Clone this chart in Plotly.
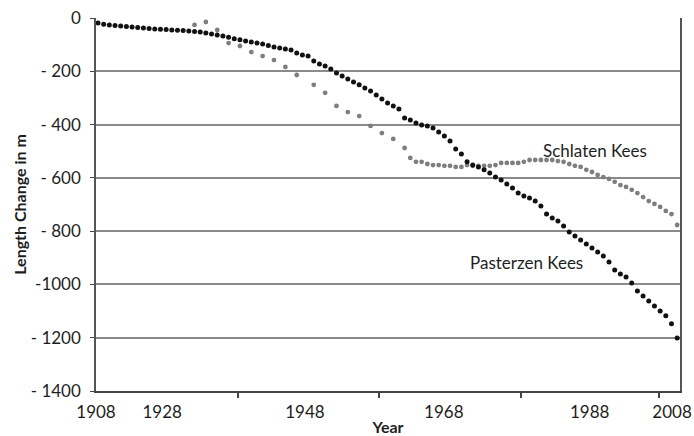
import plotly.graph_objects as go

# Pasterzen Kees: yearly 1908-2010
pasterzen_years = list(range(1908, 2011))
pasterzen_vals = [
    -19, -23, -26, -28, -30, -32, -34, -36, -38, -39,
    -41, -42, -43, -45, -46, -47, -49, -51, -53, -56,
    -60, -64, -68, -72, -78, -82, -86, -90, -94, -98,
    -103, -109, -113, -116, -120, -131, -139, -143, -161, -173,
    -180, -191, -206, -218, -229, -240, -251, -263, -274, -289,
    -304, -319, -330, -342, -375, -383, -394, -402, -405, -413,
    -428, -443, -462, -492, -510, -540, -552, -559, -570, -582,
    -597, -608, -623, -638, -657, -668, -676, -687, -706, -736,
    -751, -762, -781, -803, -818, -833, -848, -863, -878, -893,
    -916, -946, -961, -972, -995, -1025, -1043, -1062, -1081, -1100,
    -1118, -1148, -1201,
]

# Schlaten Kees
schlaten_years = [1925, 1927, 1929, 1931, 1933, 1935, 1937, 1939, 1941, 1943,
                  1946, 1948, 1950, 1952, 1954, 1956, 1958, 1960, 1962, 1963,
                  1964] + list(range(1965, 2011))
schlaten_vals = [
    -26, -15, -45, -94, -105, -128, -143, -158, -184, -214,
    -251, -281, -330, -353, -368, -405, -432, -454, -488, -525,
    -540,
    -540, -548, -552, -552, -555, -555, -559, -559, -552, -555,
    -555, -555, -555, -552, -544, -544, -544, -544, -540, -533,
    -533, -533, -533, -533, -537, -540, -548, -555, -559, -570,
    -578, -589, -597, -604, -615, -627, -634, -645, -657, -672,
    -687, -698, -709, -724, -736, -777,
]

y_ticks = [0, -200, -400, -600, -800, -1000, -1200, -1400]
y_ticktext = ["0", "- 200", "- 400", "- 600", "- 800", "-1000", "- 1200", "- 1400"]

x_tickmarks = [1932.65, 1957.5, 1982.5, 2006.8]
x_label_pos = [1907.65, 1919.3, 1944.45, 1968.9, 1994.6, 2009.1]
x_labels = ["1908", "1928", "1948", "1968", "1988", "2008"]

FONT = "Lato, 'Open Sans', sans-serif"
TXT = "#1e1e1e"
XR = [1907.65, 2010.5]

fig = go.Figure()
fig.add_trace(go.Scatter(
    x=schlaten_years, y=schlaten_vals, mode="markers",
    marker=dict(color="#7e7e7e", size=4.8), name="Schlaten Kees",
    showlegend=False))
fig.add_trace(go.Scatter(
    x=pasterzen_years, y=pasterzen_vals, mode="markers",
    marker=dict(color="#111111", size=5), name="Pasterzen Kees",
    showlegend=False))

fig.add_annotation(x=1995.5, y=-499, text="Schlaten Kees", showarrow=False,
                   font=dict(family=FONT, size=17, color=TXT))
fig.add_annotation(x=1983.5, y=-916, text="Pasterzen Kees", showarrow=False,
                   font=dict(family=FONT, size=17, color=TXT))

fig.update_layout(
    width=694, height=436,
    margin=dict(l=96, r=14, t=18, b=45, autoexpand=False),
    paper_bgcolor="white", plot_bgcolor="white",
    font=dict(family=FONT, size=17, color=TXT),
    xaxis=dict(range=XR, tickvals=x_tickmarks, ticktext=["" for _ in x_tickmarks],
               ticks="outside", ticklen=5, tickcolor="#444", tickwidth=1.5,
               showgrid=False, zeroline=False, automargin=False,
               showline=True, linecolor="#444", linewidth=1.5),
    xaxis2=dict(range=XR, overlaying="x", side="bottom", anchor="y",
                tickvals=x_label_pos, ticktext=x_labels, ticks="",
                showgrid=False, zeroline=False, showline=False, automargin=False,
                ticklabelstandoff=9,
                tickfont=dict(family=FONT, size=17, color=TXT),
                title=dict(text="<b>Year</b>", standoff=8,
                           font=dict(family=FONT, size=16, color=TXT))),
    yaxis=dict(range=[-1400, 0], tickvals=y_ticks, ticktext=y_ticktext,
               ticks="outside", ticklen=4, tickcolor="#444",
               showgrid=True, gridcolor="#8a8a8a", gridwidth=1.5,
               zeroline=False, showline=True, linecolor="#555", linewidth=1.5,
               mirror=True,
               ticklabelstandoff=6, automargin=False,
               tickfont=dict(family=FONT, size=17, color=TXT),
               title=dict(text="<b>Length Change in m</b>", standoff=0,
                          font=dict(family=FONT, size=16, color=TXT))),
)
# dummy trace for xaxis2 so it renders
fig.add_trace(go.Scatter(x=[XR[0]], y=[None], xaxis="x2", showlegend=False,
                         hoverinfo="skip", mode="markers"))

fig.write_html(
    "out.html",
    config={"displayModeBar": False},
    post_script="document.body.style.margin='0';document.body.style.overflow='hidden';",
)
